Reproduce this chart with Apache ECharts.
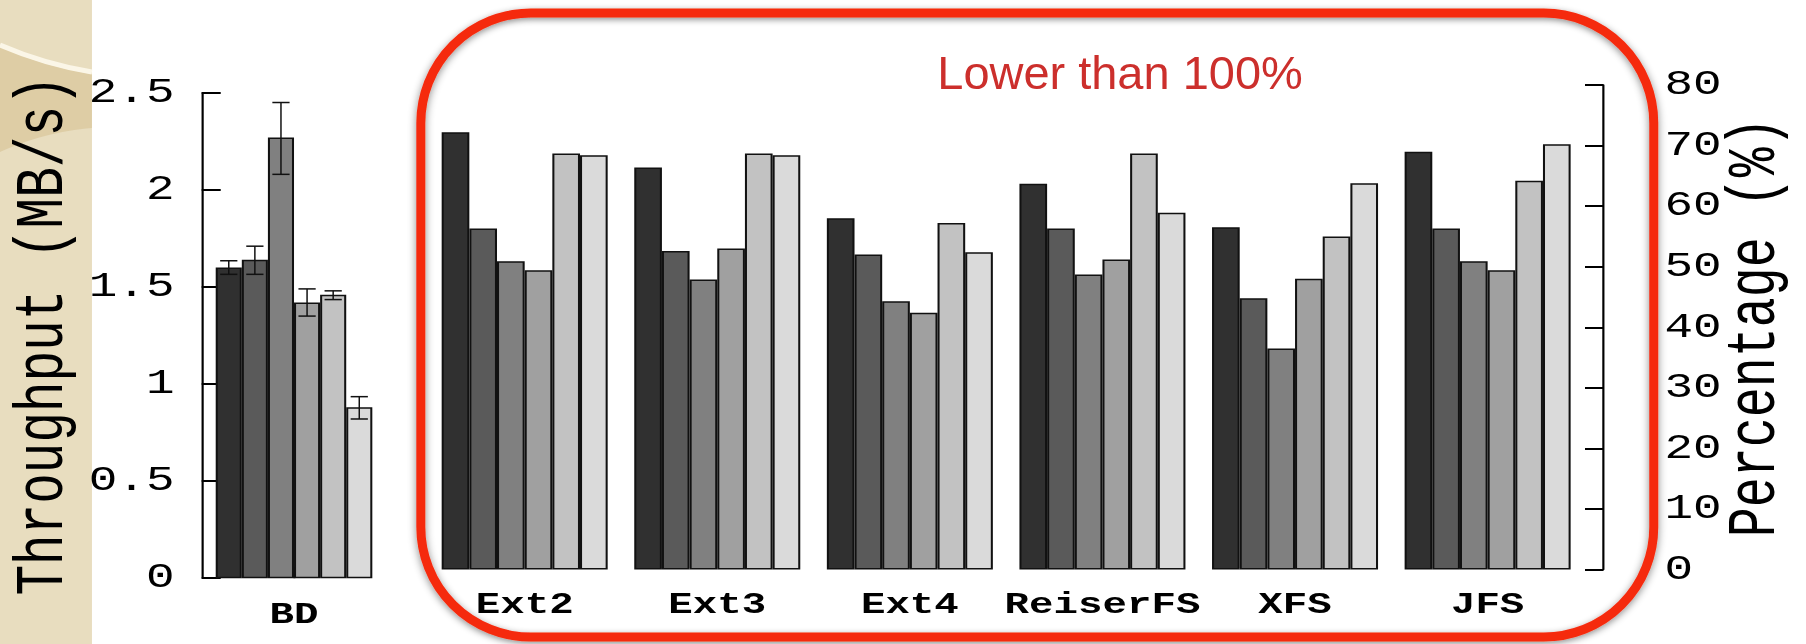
<!DOCTYPE html>
<html>
<head>
<meta charset="utf-8">
<script src="https://cdn.jsdelivr.net/npm/echarts@6/dist/echarts.min.js"></script>
<style>
  html, body { margin: 0; padding: 0; background: #ffffff; overflow: hidden; }
  #wrap { width: 1806px; height: 644px; overflow: hidden; position: relative; }
  /* the plot is laid out narrow and widened horizontally */
  #chart { width: 1328px; height: 644px; transform-origin: 0 0; }
</style>
</head>
<body>
<div id="wrap"><div id="chart"></div></div>
<script>
// ---- data ----
const bdCategories = ['BD'];
const bdThroughput = [1.60, 1.64, 2.27, 1.42, 1.46, 0.88];
const bdErrLow     = [1.565, 1.565, 2.08, 1.35, 1.435, 0.82];
const bdErrHigh    = [1.635, 1.71, 2.45, 1.49, 1.48, 0.935];
const bdAxisMin = 0, bdAxisMax = 2.5, bdAxisStep = 0.5;

const fsCategories = ['Ext2', 'Ext3', 'Ext4', 'ReiserFS', 'XFS', 'JFS'];
const pctRun1 = [72.2, 66.4, 58.0, 63.7, 56.5, 69.0];
const pctRun2 = [56.3, 52.6, 52.0, 56.3, 44.8, 56.3];
const pctRun3 = [50.9, 47.9, 44.3, 48.7, 36.5, 50.9];
const pctRun4 = [49.4, 53.0, 42.4, 51.2, 48.0, 49.4];
const pctRun5 = [68.7, 68.7, 57.2, 68.7, 55.0, 64.2];
const pctRun6 = [68.4, 68.4, 52.4, 58.9, 63.8, 70.2];
const pctAxisMin = 0, pctAxisMax = 80, pctAxisStep = 10;

const calloutText = 'Lower than 100%';
const throughputTitle = 'Throughput (MB/s)';
const percentTitle = 'Percentage (%)';

// ---- styling ----
const PAGE_W = 1806, INNER_W = 1328;
const S = PAGE_W / INNER_W;                 // horizontal widening factor
document.getElementById('chart').style.transform = 'scaleX(' + S + ')';

const greys = ['#303030', '#5a5a5a', '#808080', '#a0a0a0', '#c2c2c2', '#dadada'];
const MONO = '"Liberation Mono", "DejaVu Sans Mono", monospace';
const BD_GAP = 0.152;

const pctRuns = [pctRun1, pctRun2, pctRun3, pctRun4, pctRun5, pctRun6];

const barStyle = (i) => ({ color: greys[i], borderColor: '#111', borderWidth: 1.5 });

const series = [];
bdThroughput.forEach((v, i) => {
  series.push({
    name: 'BD ' + (i + 1), type: 'bar', xAxisIndex: 0, yAxisIndex: 0,
    data: [v], barGap: '0%', barCategoryGap: (BD_GAP * 100) + '%',
    itemStyle: barStyle(i), silent: true
  });
});
series.push({
  name: 'BD error', type: 'custom', xAxisIndex: 0, yAxisIndex: 0, z: 5, silent: true,
  data: bdThroughput.map((v, i) => [0, bdErrLow[i], bdErrHigh[i], i]),
  renderItem: function (params, api) {
    const band = api.size([1, 0])[0];
    const groupW = band * (1 - BD_GAP);
    const bw = groupW / bdThroughput.length;
    const i = api.value(3);
    const lo = api.coord([api.value(0), api.value(1)]);
    const hi = api.coord([api.value(0), api.value(2)]);
    const x = lo[0] - groupW / 2 + bw * (i + 0.5);
    const cap = bw * 0.33;
    return {
      type: 'group',
      children: [
        { type: 'line', shape: { x1: x, y1: lo[1], x2: x, y2: hi[1] }, style: { stroke: '#111', lineWidth: 1.1 } },
        { type: 'line', shape: { x1: x - cap, y1: lo[1], x2: x + cap, y2: lo[1] }, style: { stroke: '#111', lineWidth: 1.5 } },
        { type: 'line', shape: { x1: x - cap, y1: hi[1], x2: x + cap, y2: hi[1] }, style: { stroke: '#111', lineWidth: 1.5 } }
      ]
    };
  }
});
pctRuns.forEach((arr, i) => {
  series.push({
    name: 'FS ' + (i + 1), type: 'bar', xAxisIndex: 1, yAxisIndex: 1,
    data: arr, barGap: '0%', barCategoryGap: '13.8%',
    itemStyle: barStyle(i), silent: true
  });
});

// quadratic curve sampled into points for the side band sheen
function quad(p0, c, p1, n) {
  const pts = [];
  for (let k = 0; k <= n; k++) {
    const t = k / n, u = 1 - t;
    pts.push([u * u * p0[0] + 2 * u * t * c[0] + t * t * p1[0],
              u * u * p0[1] + 2 * u * t * c[1] + t * t * p1[1]]);
  }
  return pts;
}
const sheenTop = quad([0, 47], [44, 66], [92, 74], 16);
const sheenBottom = quad([92, 128], [44, 132], [0, 152], 16);

// slide frame, side band and callout are placed in page pixels
const frame = {
  type: 'group', x: 0, y: 0, scaleX: 1 / S, silent: true,
  children: [
    { type: 'rect', z: -10, shape: { x: 0, y: 0, width: 92, height: 644 },
      style: { fill: '#e8ddbf' } },
    { type: 'polygon', z: -9, shape: { points: sheenTop.concat(sheenBottom) },
      style: { fill: 'rgba(200,170,105,0.30)' } },
    { type: 'bezierCurve', z: -8,
      shape: { x1: 0, y1: 45, cpx1: 44, cpy1: 64, x2: 92, y2: 72 },
      style: { fill: null, stroke: '#fbf6e7', lineWidth: 5 } },
    { type: 'rect', z: 20,
      shape: { x: 421, y: 13, width: 1233.5, height: 624, r: 110 },
      style: { fill: null, stroke: '#f52a0c', lineWidth: 9,
               shadowBlur: 6, shadowColor: 'rgba(0,0,0,0.45)', shadowOffsetY: 2 } },
    { type: 'text', z: 20, x: 1120, y: 72,
      style: { text: calloutText, fill: '#cc2f2c', font: '47px "Liberation Sans", Arial, sans-serif',
               align: 'center', verticalAlign: 'middle' } }
  ]
};

const chart = echarts.init(document.getElementById('chart'), null, { renderer: 'svg' });
chart.setOption({
  animation: false,
  backgroundColor: 'transparent',
  grid: [
    { left: 148.3, top: 92.8, width: 135.8, height: 485.4, outerBoundsMode: 'none', containLabel: false },
    { left: 315.0, top: 85.0, width: 849.7, height: 484.6, outerBoundsMode: 'none', containLabel: false }
  ],
  xAxis: [
    { type: 'category', gridIndex: 0, data: bdCategories,
      axisLine: { show: false },
      axisTick: { show: true, alignWithLabel: true, inside: true, length: 11,
                  lineStyle: { color: '#111', width: 1.4 } },
      axisLabel: { interval: 0, margin: 22, color: '#000', fontFamily: MONO, fontSize: 30, fontWeight: 'bold' } },
    { type: 'category', gridIndex: 1, data: fsCategories,
      axisLine: { show: false }, axisTick: { show: false },
      axisLabel: { interval: 0, margin: 20, color: '#000', fontFamily: MONO, fontSize: 30, fontWeight: 'bold' } }
  ],
  yAxis: [
    { type: 'value', gridIndex: 0, position: 'left',
      min: bdAxisMin, max: bdAxisMax, interval: bdAxisStep,
      name: throughputTitle, nameLocation: 'middle', nameRotate: 90, nameGap: 91,
      nameMoveOverlap: false,
      nameTextStyle: { fontFamily: MONO, fontSize: 51, color: '#000' },
      axisLine: { show: true, lineStyle: { color: '#000', width: 1.6 } },
      axisTick: { show: true, inside: true, length: 14, lineStyle: { color: '#000', width: 2 } },
      axisLabel: { margin: 20, color: '#000', fontFamily: MONO, fontSize: 35 },
      splitLine: { show: false } },
    { type: 'value', gridIndex: 1, position: 'right', offset: 14.3,
      min: pctAxisMin, max: pctAxisMax, interval: pctAxisStep,
      name: percentTitle, nameLocation: 'middle', nameRotate: 90, nameGap: 87,
      nameMoveOverlap: false,
      nameTextStyle: { fontFamily: MONO, fontSize: 50, color: '#000' },
      axisLine: { show: true, lineStyle: { color: '#000', width: 1.6 } },
      axisTick: { show: true, inside: true, length: 13.5, lineStyle: { color: '#000', width: 2 } },
      axisLabel: { margin: 45, color: '#000', fontFamily: MONO, fontSize: 35 },
      splitLine: { show: false } }
  ],
  graphic: [frame],
  series: series
});
</script>
</body>
</html>
